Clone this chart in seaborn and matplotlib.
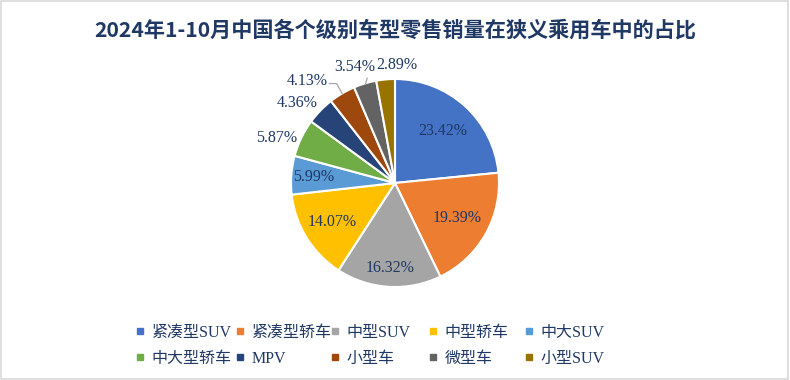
import numpy as np
import matplotlib
matplotlib.use('Agg')
import matplotlib.pyplot as plt
import seaborn as sns

# --- data ---
categories = ['紧凑型SUV', '紧凑型轿车', '中型SUV', '中型轿车', '中大SUV',
              '中大型轿车', 'MPV', '小型车', '微型车', '小型SUV']
shares = [23.42, 19.39, 16.32, 14.07, 5.99, 5.87, 4.36, 4.13, 3.54, 2.89]
colors = ['#4472C4', '#ED7D31', '#A5A5A5', '#FFC000', '#5B9BD5',
          '#70AD47', '#264478', '#9E480E', '#636363', '#997300']
title = '2024年1-10月中国各个级别车型零售销量在狭义乘用车中的占比'

# label placement: radius factor plus small nudges (in pie radii)
label_r = [0.68, 0.69, 0.82, 0.71, 0.78, 1.22, 1.24, 1.32, 1.20, 1.14]
label_dx = [0.0, 0.0, 0.0, 0.0, 0.0, -0.04, -0.05, -0.17, -0.04, 0.12]
label_dy = [0.0, 0.0, 0.0, 0.0, 0.0, -0.10, -0.09, -0.16, -0.03, 0.0]
leader = [False] * 7 + [True, True, False]

sns.set_theme(style='white')
plt.rcParams['font.family'] = ['Liberation Serif', 'Noto Sans CJK SC', 'DejaVu Sans']
navy = '#1F3864'
grey = '#A6A6A6'

fig = plt.figure(figsize=(7.9, 3.8), dpi=100)
W, H = 790, 380
cx, cy, side = 395, 380 - 183, 300
ax = fig.add_axes([(cx - side / 2) / W, (cy - side / 2) / H, side / W, side / H])

wedges, _ = ax.pie(shares, colors=colors, startangle=90, counterclock=False,
                   radius=1.0, wedgeprops=dict(edgecolor='white', linewidth=1.5))
lim = side / 2 / 104
ax.set_xlim(-lim, lim)
ax.set_ylim(-lim, lim)
ax.set_aspect('equal')
ax.axis('off')

for w, v, r, dx, dy, ld in zip(wedges, shares, label_r, label_dx, label_dy, leader):
    ang = np.deg2rad((w.theta1 + w.theta2) / 2)
    x, y = r * np.cos(ang) + dx, r * np.sin(ang) + dy
    ax.text(x, y, f'{v:.2f}%', ha='center', va='center', fontsize=11.5,
            color=navy, family=['Liberation Serif', 'DejaVu Sans'])
    if ld:
        ex, ey = 0.99 * np.cos(ang), 0.99 * np.sin(ang)
        if x < -0.5:
            # label on the left: short horizontal then down to the wedge
            sx, sy = x + 0.21, y - 0.02
            ax.plot([sx, sx + 0.07, ex], [sy, sy, ey], color=grey, lw=0.9)
        else:
            ax.plot([x + 0.12, ex], [y - 0.11, ey], color=grey, lw=0.9)

fig.text(0.5, 1 - 30 / H, title, ha='center', va='center', fontsize=15.2,
         fontweight='bold', color=navy, family=['Noto Sans CJK SC', 'DejaVu Sans'])

# legend: five fixed-width columns of two entries each (Excel style)
col_x = [140, 240, 335, 433, 529]
ncols = len(col_x)
for k, px in enumerate(col_x):
    idx = [k, k + ncols]
    handles = [plt.Line2D([], [], marker='s', linestyle='', markersize=5,
                          markerfacecolor=colors[i], markeredgecolor=colors[i]) for i in idx]
    leg = fig.legend(handles, [categories[i] for i in idx], loc='upper left',
                     bbox_to_anchor=((px - 5) / W, 1 - 325 / H), frameon=False,
                     borderpad=0, borderaxespad=0, handlelength=0.6, handletextpad=0.45,
                     labelspacing=0.6, labelcolor=navy,
                     prop={'family': ['Liberation Serif', 'Noto Sans CJK SC', 'DejaVu Sans'],
                           'size': 11.5})

fig.patches.append(plt.Rectangle((0.001, 0.002), 0.997, 0.995, transform=fig.transFigure,
                                 fill=False, edgecolor='#D9D9D9', linewidth=1.2))

fig.savefig('out.png', dpi=100, facecolor='white')
